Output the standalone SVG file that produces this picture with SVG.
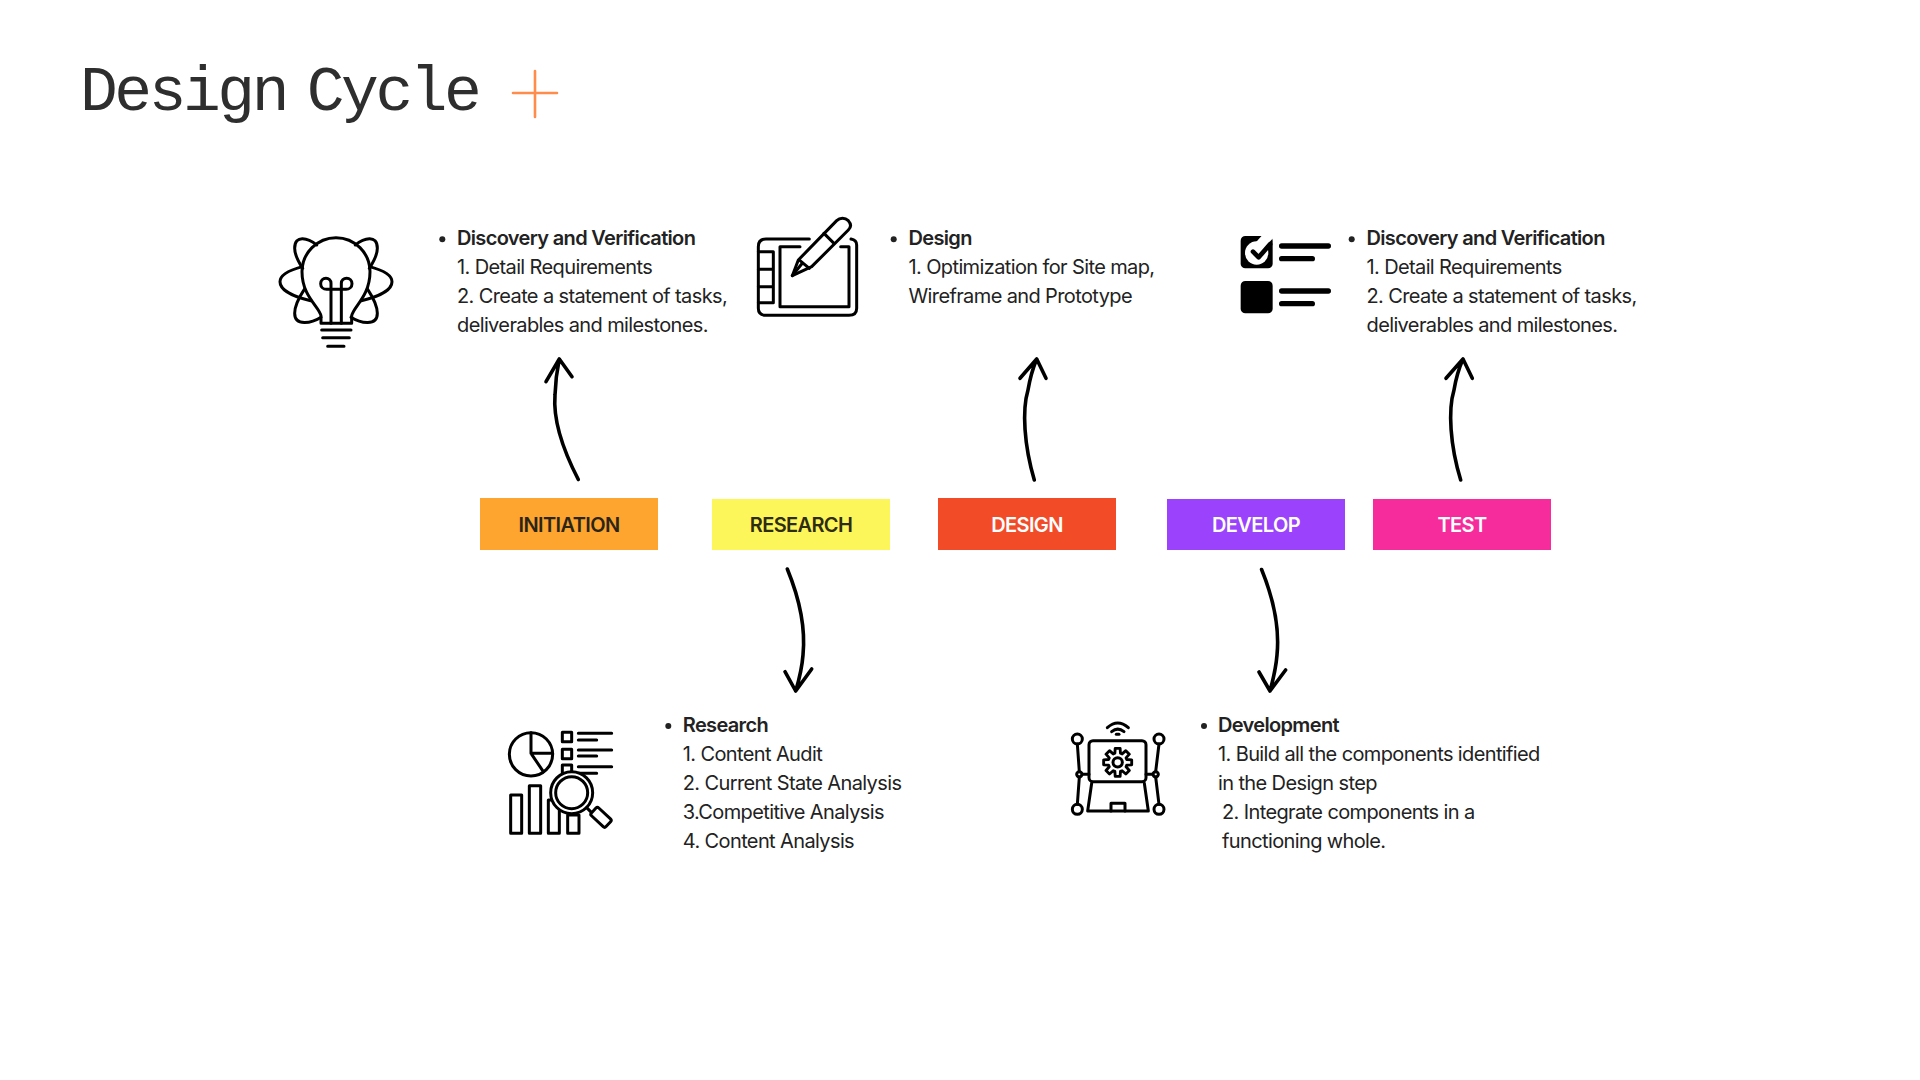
<svg xmlns="http://www.w3.org/2000/svg" width="1920" height="1080" viewBox="0 0 1920 1080">
<style>
.t{font-family:"Inter","Liberation Sans",sans-serif;font-size:20px;letter-spacing:-.62px;fill:#222}
.b{font-weight:600;letter-spacing:-.66px}
.l{font-family:"Inter","Liberation Sans",sans-serif;font-size:20px;font-weight:600;letter-spacing:-.62px;text-anchor:middle}
.ic{fill:none;stroke:#000;stroke-width:9;stroke-linecap:round;stroke-linejoin:round}
.arrow{fill:none;stroke:#000;stroke-width:3.6;stroke-linecap:round;stroke-linejoin:round}
</style>
<rect width="1920" height="1080" fill="#fff"/>
<g id="title">
<text transform="translate(80 110) scale(1.05 1.06)" font-family="'Liberation Mono',monospace" font-size="60" letter-spacing="-3.3" word-spacing="-13" fill="#2e2e2e">Design Cycle</text>
<path d="M513 93H557M535 71V117" fill="none" stroke="#ff8c4b" stroke-width="2.6" stroke-linecap="round"/>
</g>
<g id="connectors">
<path class="arrow" d="M578.300 479.500C562 448 553 420 555 395C555.500 380 557 370 559.300 359M546 381.700L559.300 359L572 376.700"/>
<path class="arrow" d="M1034.300 480C1024 445 1022 410 1028 390C1030 378 1033 368 1036.700 359M1020 378.300L1036.700 359L1046 378.300"/>
<path class="arrow" d="M1460.700 480C1450 445 1448 410 1454 390C1456 378 1459 368 1463 359M1446 378.300L1463 359L1472.300 378.300"/>
<path class="arrow" d="M787.300 569C798 595 806 625 803 655C802 668 799 680 795.700 691M785 671.700L795.700 691L811.700 669"/>
<path class="arrow" d="M1261.600 569.500C1272 595 1280 625 1277 655C1276 668 1273 680 1270 691M1259 672L1270 691L1285.600 670"/>
</g>
<g id="initiation"><rect x="480" y="498" width="178" height="52" fill="#fda52f"/><text class="l" x="569" y="531.500" fill="#2b2418">INITIATION</text></g>
<g id="research"><rect x="712" y="499" width="178" height="51" fill="#fdf65a"/><text class="l" x="801" y="531.500" fill="#2e2c14">RESEARCH</text></g>
<g id="design"><rect x="938" y="498" width="178" height="52" fill="#f24b27"/><text class="l" x="1027" y="531.500" fill="#fff">DESIGN</text></g>
<g id="develop"><rect x="1167" y="499" width="178" height="51" fill="#9a42fc"/><text class="l" x="1256" y="531.500" fill="#fff">DEVELOP</text></g>
<g id="test"><rect x="1373" y="499" width="178" height="51" fill="#f62c9d"/><text class="l" x="1462" y="531.500" fill="#fff">TEST</text></g>

<g id="info-initiation">
<g transform="translate(270 230) scale(.33333)" class="ic">
<path d="M153 280V258C150 232 96 200 96 125C96 69 142 23 198 23C254 23 300 69 300 125C300 200 248 232 245 258V280Z"/>
<path d="M183 280V160C183 151 176 145 168 145C159 145 152 152 152 161C152 171 160 178 170 178H228C238 178 246 171 246 161C246 152 239 145 230 145C221 145 214 151 214 160V280"/>
<path d="M155 300H243M158 323H238M173 349H222"/>
<path d="M140 45C115 25 74 12 74 55C74 75 85 95 98 115M256 45C281 25 322 12 322 55C322 75 311 95 298 115"/>
<path d="M97 110C60 120 30 135 30 155C30 180 70 200 122 212M299 110C336 120 366 135 366 155C366 180 326 200 274 212"/>
<path d="M103 178C85 205 74 230 74 250C74 290 125 280 153 262M293 178C311 205 322 230 322 250C322 290 271 280 243 262"/>
</g>
<circle cx="442.300" cy="239.300" r="3" fill="#222"/>
<text class="t b" x="457" y="244.500">Discovery and Verification</text>
<text class="t" x="457" y="273.500">1. Detail Requirements</text>
<text class="t" x="457" y="302.500">2. Create a statement of tasks,</text>
<text class="t" x="457" y="331.500">deliverables and milestones.</text>
</g>

<g id="info-design">
<g transform="translate(750 210) scale(.33333)" class="ic">
<path d="M178 87H48Q25 87 25 110V295Q25 316 48 316H297Q320 316 320 295V105Q320 90 303 87"/>
<path d="M70 125V278M25 125H70M25 178H70M25 230H70M25 278H70"/>
<path d="M150 110H90V290H297V110H272"/>
<path d="M127 197L145 150L260 32C270 22 285 22 295 32C305 43 303 52 295 60L185 170Z"/>
<path d="M222 70L252 100M150 152L178 175M127 197L155 162"/>
</g>
<circle cx="893.700" cy="239.300" r="3" fill="#222"/>
<text class="t b" x="908.500" y="244.500">Design</text>
<text class="t" x="908.500" y="273.500">1. Optimization for Site map,</text>
<text class="t" x="908.500" y="302.500">Wireframe and Prototype</text>
</g>

<g id="info-test">
<g transform="translate(1235 225) scale(.33333)">
<rect x="17" y="33" width="96" height="97" rx="14" fill="#000"/>
<rect x="17" y="168" width="96" height="97" rx="14" fill="#000"/>
<circle cx="65" cy="84" r="35" fill="#fff"/>
<path d="M70 66L104 28" fill="none" stroke="#fff" stroke-width="30"/>
<path d="M54 80L71 97L105 58" fill="none" stroke="#000" stroke-width="14" stroke-linecap="round" stroke-linejoin="round"/>
<path d="M140 63H280M140 101H232M140 198H280M140 236H232" fill="none" stroke="#000" stroke-width="16" stroke-linecap="round"/>
</g>
<circle cx="1351.700" cy="239.300" r="3" fill="#222"/>
<text class="t b" x="1366.500" y="244.500">Discovery and Verification</text>
<text class="t" x="1366.500" y="273.500">1. Detail Requirements</text>
<text class="t" x="1366.500" y="302.500">2. Create a statement of tasks,</text>
<text class="t" x="1366.500" y="331.500">deliverables and milestones.</text>
</g>

<g id="info-research">
<g transform="translate(500 720) scale(.33333)" class="ic">
<circle cx="93" cy="103" r="65"/>
<path d="M93 38V100L130 155M93 100H158"/>
<rect x="187" y="37" width="28" height="28"/><rect x="187" y="88" width="28" height="28"/><rect x="187" y="135" width="28" height="28"/>
<path d="M235 40H335M235 60H290M235 90H335M235 108H290M235 140H335M235 160H290"/>
<rect x="32" y="225" width="33" height="115"/><rect x="88" y="197" width="34" height="143"/><rect x="145" y="240" width="33" height="100"/><rect x="203" y="285" width="34" height="55"/>
<circle cx="215" cy="218" r="63" fill="#fff"/>
<circle cx="215" cy="218" r="48"/>
<path d="M260 263L280 283"/>
<rect x="273" y="276" width="60" height="32" rx="6" transform="rotate(43 303 292)" fill="#fff"/>
</g>
<circle cx="668.300" cy="726" r="3" fill="#222"/>
<text class="t b" x="682.800" y="732">Research</text>
<text class="t" x="682.800" y="761">1. Content Audit</text>
<text class="t" x="682.800" y="790">2. Current State Analysis</text>
<text class="t" x="682.800" y="819">3.Competitive Analysis</text>
<text class="t" x="682.800" y="848">4. Content Analysis</text>
</g>

<g id="info-develop">
<g transform="translate(1065 715) scale(.33333)" class="ic">
<path d="M127 38Q158 10 190 38M140 50Q158 35 177 50"/>
<path d="M154 58H162"/>
<rect x="72" y="77" width="171" height="123" rx="12"/>
<path d="M80 205L68 288H250L238 205"/>
<path d="M138 288V265H180V288"/>
<path transform="translate(158 142) scale(.95)" d="M28.700 -8.800L44.300 -7.800L44.300 7.800L28.700 8.800L26.500 14.100L36.800 25.800L25.800 36.800L14.100 26.500L8.800 28.700L7.800 44.300L-7.800 44.300L-8.800 28.700L-14.100 26.500L-25.800 36.800L-36.800 25.800L-26.500 14.100L-28.700 8.800L-44.300 7.800L-44.300 -7.800L-28.700 -8.800L-26.500 -14.100L-36.800 -25.800L-25.800 -36.800L-14.100 -26.500L-8.800 -28.700L-7.800 -44.300L7.800 -44.300L8.800 -28.700L14.100 -26.500L25.800 -36.800L36.800 -25.800L26.500 -14.100Z"/>
<circle cx="158" cy="142" r="14"/>
<circle cx="37" cy="72" r="15"/><circle cx="282" cy="72" r="15"/><circle cx="37" cy="283" r="15"/><circle cx="282" cy="283" r="15"/>
<circle cx="43" cy="178" r="8"/><circle cx="272" cy="178" r="8"/>
<path d="M37 87L43 170M43 186L37 268M282 87L272 170M272 186L282 268M51 178H72M243 178H264"/>
</g>
<circle cx="1204" cy="726" r="3" fill="#222"/>
<text class="t b" x="1218" y="732">Development</text>
<text class="t" x="1218" y="761">1. Build all the components identified</text>
<text class="t" x="1218" y="790">in the Design step</text>
<text class="t" x="1222" y="819">2. Integrate components in a</text>
<text class="t" x="1222" y="848">functioning whole.</text>
</g>
</svg>
